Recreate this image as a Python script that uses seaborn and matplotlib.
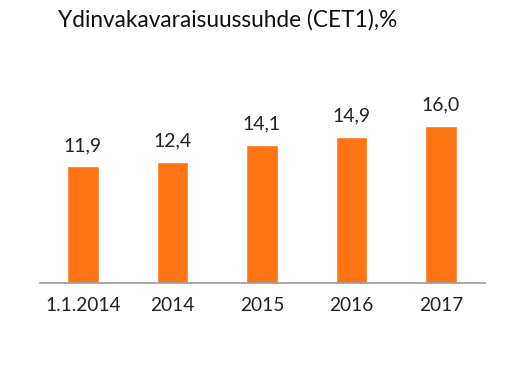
import matplotlib
matplotlib.use("Agg")
import matplotlib.pyplot as plt
import seaborn as sns
import pandas as pd

categories = ["1.1.2014", "2014", "2015", "2016", "2017"]
values = [11.9, 12.4, 14.1, 14.9, 16.0]
labels = ["11,9", "12,4", "14,1", "14,9", "16,0"]

sns.set_style("white")
plt.rcParams["font.family"] = ["Lato", "DejaVu Sans"]

df = pd.DataFrame({"period": categories, "cet1": values})

fig = plt.figure(figsize=(5.12, 3.67), dpi=100)
ax = fig.add_axes([0.078, 0.229, 0.869, 0.499])
sns.barplot(data=df, x="period", y="cet1", color="#FF7415", width=0.35,
            saturation=1, ax=ax)

ax.set_ylim(0, 18.7)
ax.set_xlim(-0.48, 4.49)
for s in ["top", "right", "left"]:
    ax.spines[s].set_visible(False)
ax.spines["bottom"].set_color("#999999")
ax.spines["bottom"].set_linewidth(1.2)
ax.set_yticks([])
ax.set_xlabel("")
ax.set_ylabel("")
ax.tick_params(axis="x", length=0, pad=10, labelsize=13.8, labelcolor="#222222")

ax.bar_label(ax.containers[0], labels=labels, padding=9, fontsize=14, color="#222222")

fig.text(0.113, 0.945, "Ydinvakavaraisuussuhde (CET1),%", fontsize=16.3,
         color="#111111", va="center", ha="left")

fig.savefig("out.png", dpi=100)
